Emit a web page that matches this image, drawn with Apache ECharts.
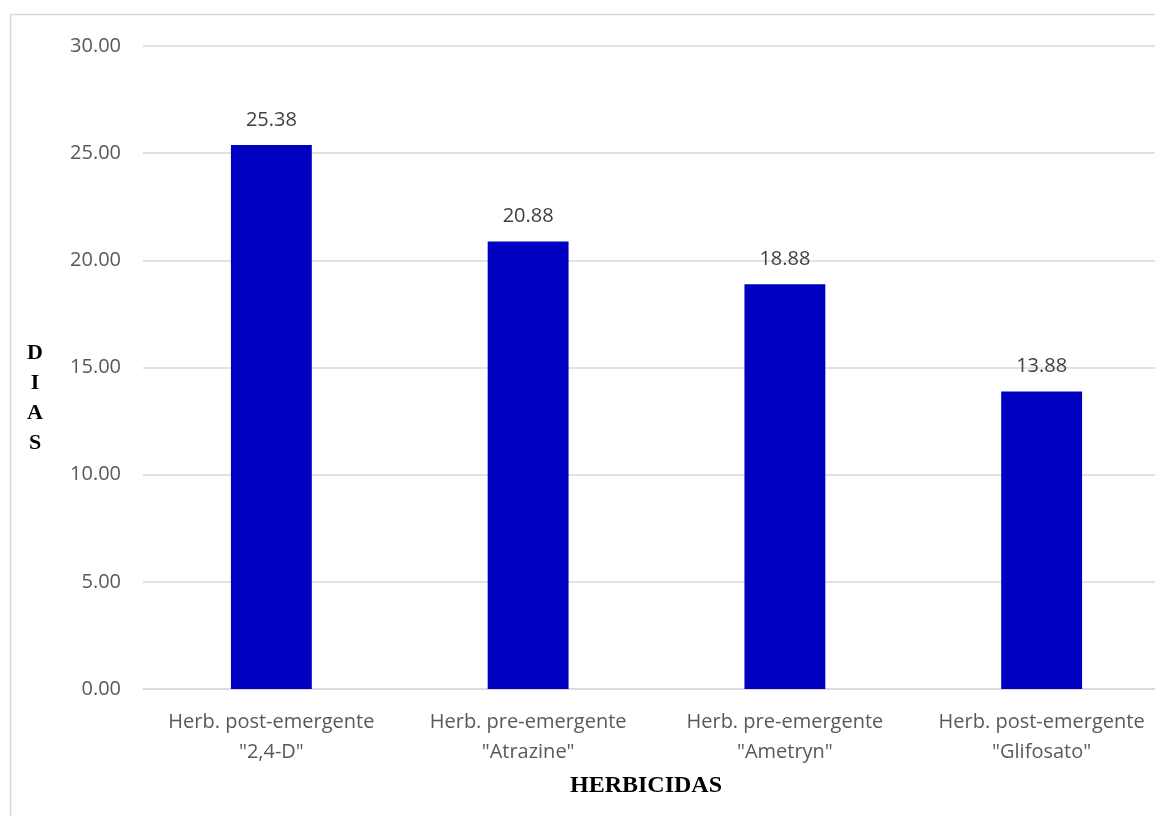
<!DOCTYPE html>
<html>
<head>
<meta charset="utf-8">
<style>
  html, body { margin: 0; padding: 0; background: #ffffff; }
  #chart { width: 1155px; height: 816px; }
</style>
<script src="https://cdn.jsdelivr.net/npm/echarts@6/dist/echarts.min.js"></script>
</head>
<body>
<div id="chart"></div>
<script>
// Days per herbicide treatment
const categories = [
  'Herb. post-emergente\n"2,4-D"',
  'Herb. pre-emergente\n"Atrazine"',
  'Herb. pre-emergente\n"Ametryn"',
  'Herb. post-emergente\n"Glifosato"'
];
const dias = [25.38, 20.88, 18.88, 13.88];
const yTicks = { min: 0, max: 30, interval: 5 };
const xTitle = 'HERBICIDAS';
const yTitle = 'DIAS';

const labelFont = '"Open Sans", "Noto Sans", sans-serif';
const titleFont = '"Liberation Serif", "Times New Roman", serif';

const chart = echarts.init(document.getElementById('chart'), null, { renderer: 'canvas' });

chart.setOption({
  backgroundColor: '#ffffff',
  animation: false,
  graphic: [
    {
      type: 'rect',
      shape: { x: 10.5, y: 14.5, width: 1300, height: 900 },
      style: { fill: 'none', stroke: '#d9d9d9', lineWidth: 1.5 },
      silent: true
    },
    {
      type: 'text',
      x: 35,
      y: 338,
      style: {
        text: yTitle.split('').join('\n'),
        font: 'bold 22px ' + titleFont,
        fill: '#000000',
        lineHeight: 30,
        align: 'center'
      }
    },
    {
      type: 'text',
      x: 646,
      y: 774,
      style: {
        text: xTitle,
        font: 'bold 24px ' + titleFont,
        fill: '#000000',
        align: 'center'
      }
    }
  ],
  // plot area runs past the right edge of the canvas
  grid: {
    left: 143, width: 1027, top: 46, bottom: 127,
    containLabel: false,
    outerBoundsMode: 'none'
  },
  xAxis: {
    type: 'category',
    data: categories,
    axisLine: { show: true, lineStyle: { color: '#d9d9d9', width: 1.5 } },
    axisTick: { show: false },
    axisLabel: {
      color: '#595959',
      fontSize: 20,
      fontFamily: labelFont,
      lineHeight: 30,
      margin: 18,
      interval: 0
    }
  },
  yAxis: {
    type: 'value',
    min: yTicks.min,
    max: yTicks.max,
    interval: yTicks.interval,
    axisLine: { show: false },
    axisTick: { show: false },
    splitLine: { lineStyle: { color: '#d9d9d9', width: 1.5 } },
    axisLabel: {
      color: '#595959',
      fontSize: 20,
      fontFamily: labelFont,
      margin: 22,
      formatter: v => v.toFixed(2)
    }
  },
  series: [{
    type: 'bar',
    data: dias,
    barWidth: '31.5%',
    itemStyle: { color: '#0000c0' },
    label: {
      show: true,
      position: 'top',
      distance: 15,
      color: '#404040',
      fontSize: 20,
      fontFamily: labelFont,
      formatter: p => p.value.toFixed(2)
    }
  }]
});
</script>
</body>
</html>
